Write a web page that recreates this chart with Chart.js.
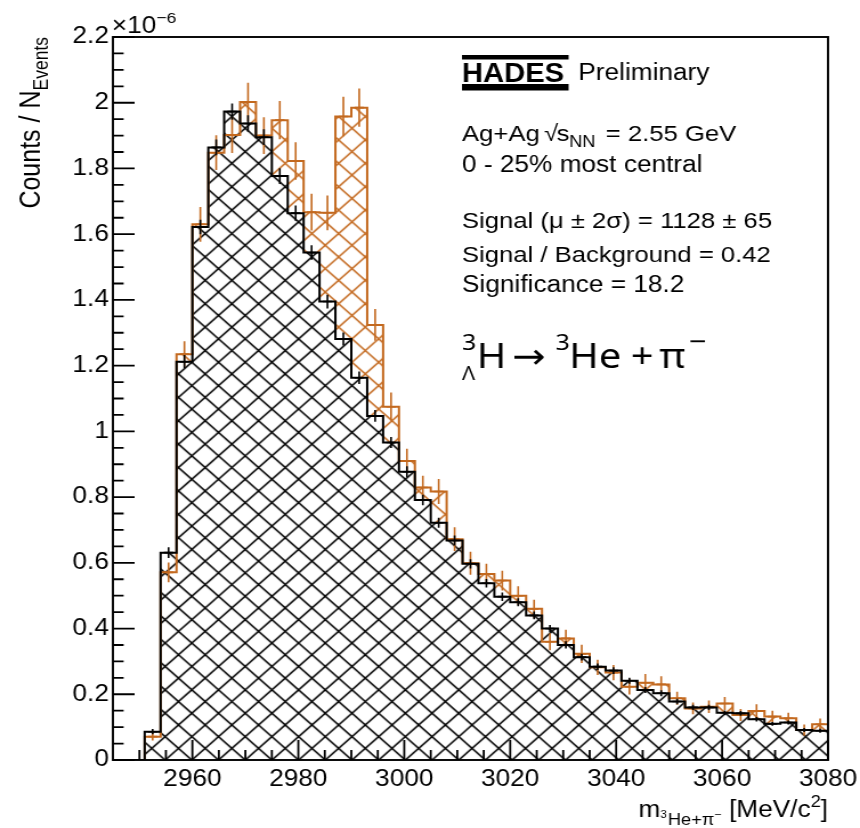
<!DOCTYPE html>
<html>
<head>
<meta charset="utf-8">
<title>HADES hypertriton invariant mass</title>
<script src="https://cdn.jsdelivr.net/npm/chart.js@4.4.1/dist/chart.umd.min.js"></script>
<style>
  html, body { margin: 0; padding: 0; background: #fff; overflow: hidden; }
  /* the figure is laid out on a 754 px wide canvas and widened to 860 px on the page */
  #wrap { position: absolute; left: 0; top: 0; width: 754px; height: 828px;
          transform: scaleX(1.140584); transform-origin: 0 0; }
  canvas { display: block; }
</style>
</head>
<body>
<div id="wrap"><canvas id="c" width="754" height="828"></canvas></div>
<script>
// ---- binning: 3 MeV/c^2 bins from 2945 to 3080 ----
const binLeftEdges = [
  2945, 2948, 2951, 2954, 2957, 2960, 2963, 2966, 2969, 2972,
  2975, 2978, 2981, 2984, 2987, 2990, 2993, 2996, 2999, 3002,
  3005, 3008, 3011, 3014, 3017, 3020, 3023, 3026, 3029, 3032,
  3035, 3038, 3041, 3044, 3047, 3050, 3053, 3056, 3059, 3062,
  3065, 3068, 3071, 3074, 3077
];
const binWidth = 3;
const xMin = 2945, xMax = 3080;

// ---- same-event 3He + pi- pairs (orange), counts / N_events in units of 1e-6 ----
const signalPlusBackground = [
  0, 0, 0.071, 0.571, 1.235, 1.630, 1.848, 1.902, 2.002, 1.900,
  1.947, 1.823, 1.667, 1.665, 1.958, 1.985, 1.324, 1.075, 0.910, 0.829,
  0.817, 0.672, 0.599, 0.566, 0.546, 0.500, 0.460, 0.360, 0.370, 0.323,
  0.282, 0.266, 0.223, 0.235, 0.230, 0.188, 0.157, 0.162, 0.172, 0.137,
  0.149, 0.132, 0.127, 0.091, 0.109
];
const signalPlusBackgroundErr = [
  0, 0, 0.012, 0.030, 0.039, 0.053, 0.053, 0.055, 0.059, 0.056,
  0.058, 0.057, 0.056, 0.053, 0.060, 0.058, 0.048, 0.043, 0.037, 0.036,
  0.038, 0.036, 0.035, 0.031, 0.030, 0.029, 0.028, 0.026, 0.026, 0.028,
  0.023, 0.023, 0.024, 0.027, 0.025, 0.020, 0.018, 0.019, 0.020, 0.018,
  0.021, 0.018, 0.017, 0.017, 0.017
];

// ---- combinatorial background (black) ----
const background = [
  0, 0, 0.086, 0.631, 1.212, 1.622, 1.864, 1.973, 1.937, 1.895,
  1.777, 1.664, 1.544, 1.395, 1.281, 1.163, 1.047, 0.966, 0.877, 0.791,
  0.722, 0.668, 0.597, 0.538, 0.497, 0.480, 0.440, 0.400, 0.350, 0.313,
  0.284, 0.272, 0.241, 0.213, 0.203, 0.178, 0.160, 0.160, 0.144, 0.142,
  0.124, 0.110, 0.114, 0.091, 0.089
];
const backgroundErr = [
  0, 0, 0.008, 0.016, 0.020, 0.022, 0.024, 0.025, 0.025, 0.024,
  0.024, 0.023, 0.022, 0.021, 0.020, 0.019, 0.018, 0.017, 0.017, 0.016,
  0.015, 0.015, 0.014, 0.013, 0.013, 0.012, 0.012, 0.011, 0.011, 0.010,
  0.010, 0.010, 0.009, 0.009, 0.009, 0.008, 0.008, 0.008, 0.007, 0.007,
  0.007, 0.006, 0.006, 0.006, 0.006
];

// ---- axis ticks ----
const xTickLabels = [2960, 2980, 3000, 3020, 3040, 3060, 3080];
const yTickValues = [0, 0.2, 0.4, 0.6, 0.8, 1.0, 1.2, 1.4, 1.6, 1.8, 2.0, 2.2];
const yTickLabels = ['0', '0.2', '0.4', '0.6', '0.8', '1', '1.2', '1.4', '1.6', '1.8', '2', '2.2'];

// ---- styling ----
const SANS = "'Liberation Sans', Arial, Helvetica, sans-serif";
const FORMULA = "'Noto Sans', 'DejaVu Sans', sans-serif";
const ORANGE = '#c3691f';
const HATCH = { cell: 23.4, repeat: 5, x0: 144.7, y0: 760, width: 1.55 };

const canvas = document.getElementById('c');
const ctx0 = canvas.getContext('2d');

// 45 degree cross-hatch on a tile of several cells so the spacing need not be integer;
// both patterns share one lattice
function crossHatch(color, paper) {
  const n = HATCH.repeat, d = HATCH.cell, T = Math.round(n * d);
  const tile = document.createElement('canvas');
  tile.width = T; tile.height = T;
  const g = tile.getContext('2d');
  if (paper) { g.fillStyle = paper; g.fillRect(0, 0, T, T); }
  g.strokeStyle = color;
  g.lineWidth = HATCH.width;
  g.beginPath();
  for (let k = -n; k <= n; k++) {
    const c = k * d;
    g.moveTo(c - 3, -3); g.lineTo(c + T + 3, T + 3);
  }
  for (let k = 0; k <= 2 * n; k++) {
    const c = k * d;
    g.moveTo(c + 3, -3); g.lineTo(c - T - 3, T + 3);
  }
  g.stroke();
  const p = ctx0.createPattern(tile, 'repeat');
  p.setTransform(new DOMMatrix().translate(HATCH.x0, HATCH.y0));
  return p;
}

function histPoints(values) {
  const pts = binLeftEdges.map((x, i) => ({ x, y: values[i] }));
  pts.push({ x: xMax, y: values[values.length - 1] });
  return pts;
}

// error bars of each histogram, drawn right after its own outline
const errorBars = {
  id: 'errorBars',
  afterDatasetDraw(chart, args) {
    const ds = chart.data.datasets[args.index];
    if (!ds.binValues) return;
    const xs = chart.scales.x, ys = chart.scales.y, ctx = chart.ctx;
    ctx.save();
    ctx.strokeStyle = ds.borderColor;
    ctx.lineWidth = 1.6;
    ctx.beginPath();
    ds.binValues.forEach((v, i) => {
      if (v <= 0) return;
      const e = ds.binErrors[i];
      const c = binLeftEdges[i] + binWidth / 2;
      const px = xs.getPixelForValue(c);
      ctx.moveTo(px, ys.getPixelForValue(v - e));
      ctx.lineTo(px, ys.getPixelForValue(v + e));
      const py = ys.getPixelForValue(v);
      ctx.moveTo(xs.getPixelForValue(c - 0.9), py);
      ctx.lineTo(xs.getPixelForValue(c + 0.9), py);
    });
    ctx.stroke();
    ctx.restore();
  }
};

// draw a run of text pieces; each piece may change size, font and vertical offset
function richText(ctx, x, y, pieces, align) {
  ctx.save();
  ctx.textBaseline = 'alphabetic';
  ctx.textAlign = 'left';
  const widths = pieces.map(p => {
    ctx.font = `${p.weight || 'normal'} ${p.size}px ${p.family || SANS}`;
    return ctx.measureText(p.text).width + (p.gap || 0);
  });
  let cx = x;
  if (align === 'right') cx = x - widths.reduce((a, b) => a + b, 0);
  pieces.forEach((p, i) => {
    ctx.font = `${p.weight || 'normal'} ${p.size}px ${p.family || SANS}`;
    if (p.x !== undefined) cx = p.x;
    ctx.fillText(p.text, cx, y + (p.dy || 0));
    cx += widths[i];
  });
  ctx.restore();
}

const frameAndText = {
  id: 'frameAndText',
  afterDraw(chart) {
    const ctx = chart.ctx, a = chart.chartArea;
    const xs = chart.scales.x, ys = chart.scales.y;
    ctx.save();
    ctx.strokeStyle = '#000';
    ctx.fillStyle = '#000';

    // inward ticks on the left and bottom axes
    ctx.lineWidth = 1.8;
    ctx.beginPath();
    for (let k = 0; k <= 44; k++) {
      const py = ys.getPixelForValue(k * 0.05);
      const len = (k % 4 === 0) ? 19 : 9.4;
      ctx.moveTo(a.left, py); ctx.lineTo(a.left + len, py);
    }
    for (let m = 2950; m <= 3080; m += 5) {
      const px = xs.getPixelForValue(m);
      const len = (m % 20 === 0) ? 20 : 10;
      ctx.moveTo(px, a.bottom); ctx.lineTo(px, a.bottom - len);
    }
    ctx.stroke();

    // frame
    ctx.lineWidth = 1.9;
    ctx.strokeRect(a.left, a.top, a.right - a.left, a.bottom - a.top);

    // exponent of the y axis
    richText(ctx, 98, 33, [
      { text: '\u00d710', size: 23 },
      { text: '\u22126', size: 15.5, dy: -10 }
    ]);

    // y axis title, rotated and ending at the top of the frame
    ctx.save();
    ctx.translate(35, 37);
    ctx.rotate(-Math.PI / 2);
    richText(ctx, 0, 0, [
      { text: 'Counts / N', size: 25 },
      { text: 'Events', size: 17.5, dy: 7 }
    ], 'right');
    ctx.restore();

    // x axis title
    richText(ctx, 726, 817, [
      { text: 'm', size: 23 },
      { text: '3', size: 10, dy: 1, gap: 1 },
      { text: 'He+\u03c0', size: 16, dy: 8 },
      { text: '\u2212', size: 11, dy: 1 },
      { text: ' [MeV/c', size: 23 },
      { text: '2', size: 16, dy: -10 },
      { text: ']', size: 23 }
    ], 'right');

    // HADES label
    ctx.fillRect(405, 55, 93.5, 4.5);
    ctx.fillRect(405, 84, 93.5, 6.5);
    ctx.save();
    ctx.font = `bold 26px ${SANS}`;
    ctx.textBaseline = 'alphabetic';
    ctx.translate(405, 82);
    ctx.scale(0.985, 1.05);
    ctx.fillText('HADES', 0, 0);
    ctx.restore();
    richText(ctx, 507, 80, [{ text: 'Preliminary', size: 23 }]);

    // collision system and selection
    richText(ctx, 405, 141, [
      { text: 'Ag+Ag', size: 22.5, x: 405 },
      { text: '\u221a', size: 22.5, x: 477 },
      { text: 's', size: 22.5, x: 488 },
      { text: 'NN', size: 16, dy: 6, x: 499 },
      { text: '= 2.55 GeV', size: 22.5, x: 531 }
    ]);
    richText(ctx, 405, 172, [{ text: '0 - 25% most central', size: 23 }]);

    // fit results
    richText(ctx, 405, 228, [{ text: 'Signal (\u03bc \u00b1 2\u03c3) = 1128 \u00b1 65', size: 22.5 }]);
    richText(ctx, 405, 262, [{ text: 'Signal / Background = 0.42', size: 22.5 }]);
    richText(ctx, 405, 292, [{ text: 'Significance = 18.2', size: 23 }]);

    // decay channel
    richText(ctx, 405, 368, [
      { text: '3', size: 22, family: FORMULA, dy: -18, x: 405 },
      { text: '\u039b', size: 19, family: FORMULA, dy: 12, x: 405 },
      { text: 'H', size: 35, family: FORMULA, x: 418 },
      { text: '\u2192', size: 35, family: FORMULA, x: 449 },
      { text: '3', size: 22, family: FORMULA, dy: -18, x: 487 },
      { text: 'He', size: 35, family: FORMULA, x: 499 },
      { text: '+', size: 35, family: FORMULA, x: 553 },
      { text: '\u03c0', size: 35, family: FORMULA, x: 578 },
      { text: '\u2212', size: 27, family: FORMULA, dy: -17, x: 604 }
    ]);
    ctx.restore();
  }
};

new Chart(canvas, {
  type: 'line',
  data: {
    datasets: [
      {
        label: 'background',
        data: histPoints(background),
        binValues: background,
        binErrors: backgroundErr,
        stepped: true,
        borderColor: '#000',
        borderWidth: 2,
        pointRadius: 0,
        fill: 'origin',
        backgroundColor: crossHatch('#000', '#fff'),
        order: 0
      },
      {
        label: 'signal + background',
        data: histPoints(signalPlusBackground),
        binValues: signalPlusBackground,
        binErrors: signalPlusBackgroundErr,
        stepped: true,
        borderColor: ORANGE,
        borderWidth: 2,
        pointRadius: 0,
        fill: 'origin',
        backgroundColor: crossHatch(ORANGE, null),
        order: 1
      }
    ]
  },
  options: {
    responsive: false,
    animation: false,
    devicePixelRatio: 1,
    layout: { padding: { left: 0, right: 28, top: 37, bottom: 0 } },
    plugins: {
      legend: { display: false },
      tooltip: { enabled: false },
      filler: { drawTime: 'beforeDatasetsDraw' }
    },
    scales: {
      x: {
        type: 'linear',
        min: xMin,
        max: xMax,
        afterBuildTicks: s => { s.ticks = xTickLabels.map(v => ({ value: v })); },
        afterFit: s => { s.height = 68; },
        grid: { display: false, drawTicks: false },
        border: { display: false },
        ticks: {
          color: '#000',
          padding: 0,
          maxRotation: 0,
          autoSkip: false,
          font: { family: SANS, size: 23, lineHeight: 1.74 },
          callback: v => String(v)
        }
      },
      y: {
        type: 'linear',
        min: 0,
        max: 2.2,
        afterBuildTicks: s => { s.ticks = yTickValues.map(v => ({ value: v })); },
        afterFit: s => { s.width = 99; },
        grid: { display: false, drawTicks: false },
        border: { display: false },
        ticks: {
          color: '#000',
          padding: 3.5,
          autoSkip: false,
          font: { family: SANS, size: 23 },
          callback: (v, i) => yTickLabels[i]
        }
      }
    }
  },
  plugins: [errorBars, frameAndText]
});
</script>
</body>
</html>
